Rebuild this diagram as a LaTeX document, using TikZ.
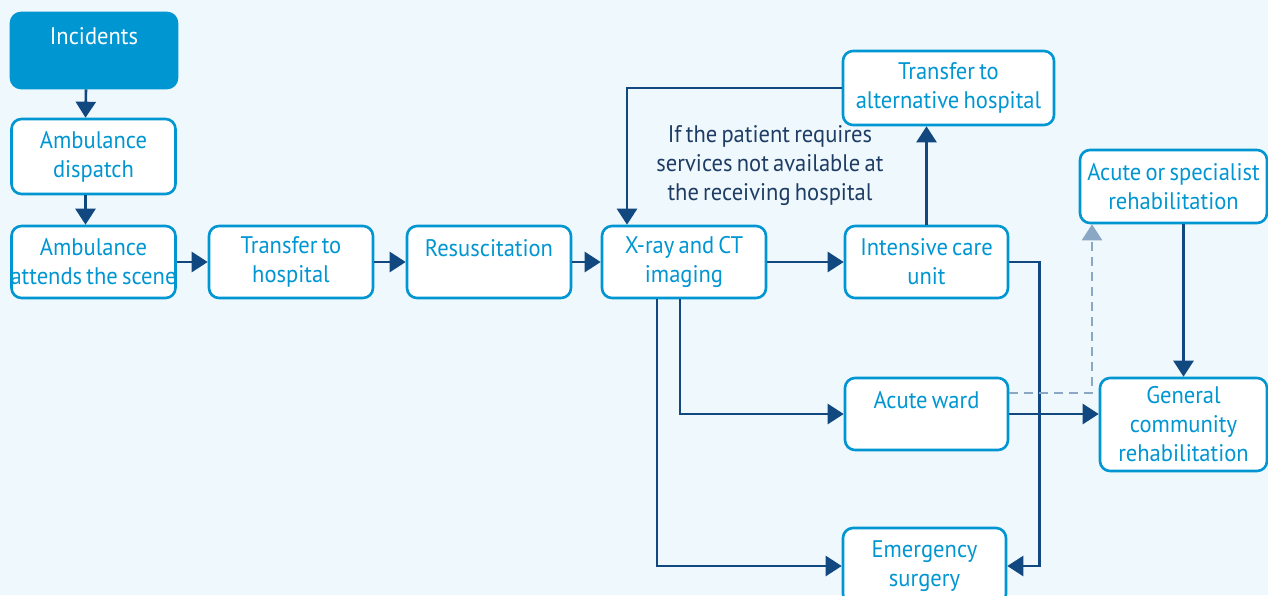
\documentclass[tikz,border=0pt]{standalone}
\usepackage{fontspec}
\setmainfont{PT Sans}[FakeStretch=0.94, WordSpace=0.7]
\usetikzlibrary{arrows.meta,positioning}
\definecolor{bgblue}{HTML}{EFF8FD}
\definecolor{boxblue}{HTML}{0096D2}
\definecolor{navy}{HTML}{114880}
\definecolor{dashgray}{HTML}{8AA8C4}
\definecolor{notenavy}{HTML}{1E3C64}

\begin{document}
\begin{tikzpicture}[x=0.5pt,y=-0.5pt]
  \tikzset{
    stage/.style={draw=boxblue, fill=white, rounded corners=5pt, line width=1.3pt, minimum width=82pt, minimum height=36pt, align=center, font=\fontsize{12}{14.5}\selectfont, text=boxblue, inner sep=1pt},
    start/.style={stage, fill=boxblue, text=white},
    arr/.style={-{Triangle[length=8pt,width=10pt]}, draw=navy, line width=1.3pt},
    opt/.style={arr, draw=dashgray, dash pattern=on 4.5pt off 3pt},
    note/.style={align=center, font=\fontsize{12}{14.5}\selectfont, text=notenavy}
  }

  % - Canvas ---
  \useasboundingbox (0,0) rectangle (1268,595);
  \fill[bgblue] (0,0) rectangle (1268,595);
  \clip (0,0) rectangle (1268,595);

  % - Pre-hospital column ---
  \node[start, minimum width=83pt, minimum height=37.5pt] (inc) at (94,50.5) {Incidents\\~};
  \node[stage, minimum height=37.5pt] (disp) at (93.5,156.5) {Ambulance\\dispatch};
  \node[stage] (scene) at (93.5,262) {Ambulance\\\makebox[70pt]{attends the scene}};

  % - Main row ---
  \node[stage] (transfer) at (291,262) {Transfer to\\hospital};
  \node[stage] (resus) at (489,262) {Resuscitation\\~};
  \node[stage] (xray) at (684,262) {X-ray and CT\\imaging};
  \node[stage, minimum width=81.5pt] (icu) at (926.5,262) {Intensive care\\unit};

  % - Onward care ---
  \node[stage, minimum width=105.5pt, minimum height=37pt] (alt) at (948.5,88) {Transfer to\\alternative hospital};
  \node[stage, minimum width=93.5pt, minimum height=36.5pt] (spec) at (1173.5,186.5) {Acute or specialist\\rehabilitation};
  \node[stage, minimum width=81.5pt] (ward) at (926.5,414) {Acute ward\\~};
  \node[stage, minimum width=83.5pt, minimum height=46.5pt] (gcr) at (1183.5,424.5) {General\\community\\rehabilitation};
  \node[stage, minimum width=81.5pt, minimum height=38pt] (surg) at (924.5,566) {Emergency\\surgery};

  \node[note] (cond) at (770,166) {If the patient requires\\services not available at\\the receiving hospital};

  % - Arrows ---
  \draw[arr] ([xshift=-4pt]inc.south) -- ([xshift=-4pt]disp.north);
  \draw[arr] ([xshift=-4pt]disp.south) -- ([xshift=-4pt]scene.north);
  \draw[arr] (scene) -- (transfer);
  \draw[arr] (transfer) -- (resus);
  \draw[arr] (resus) -- (xray);
  \draw[arr] (xray) -- (icu);
  \draw[arr] (icu.north) -- (icu.north |- alt.south);
  \draw[arr] (alt.west) -| ([xshift=-28.5pt]xray.north);
  \draw[arr] ([xshift=-2pt]xray.south) |- (ward.west);
  \draw[arr] ([xshift=-13.5pt]xray.south) |- (surg.west);
  \draw[arr] (icu.east) -- ++(30,0) |- (surg.east);
  \draw[arr] (ward.east) -- (ward.east -| gcr.west);
  \draw[opt] ([yshift=10.5pt]ward.east) -| ([xshift=-40.75pt]spec.south);
  \draw[arr] (spec.south -| gcr.north) -- (gcr.north);

\end{tikzpicture}
\end{document}
